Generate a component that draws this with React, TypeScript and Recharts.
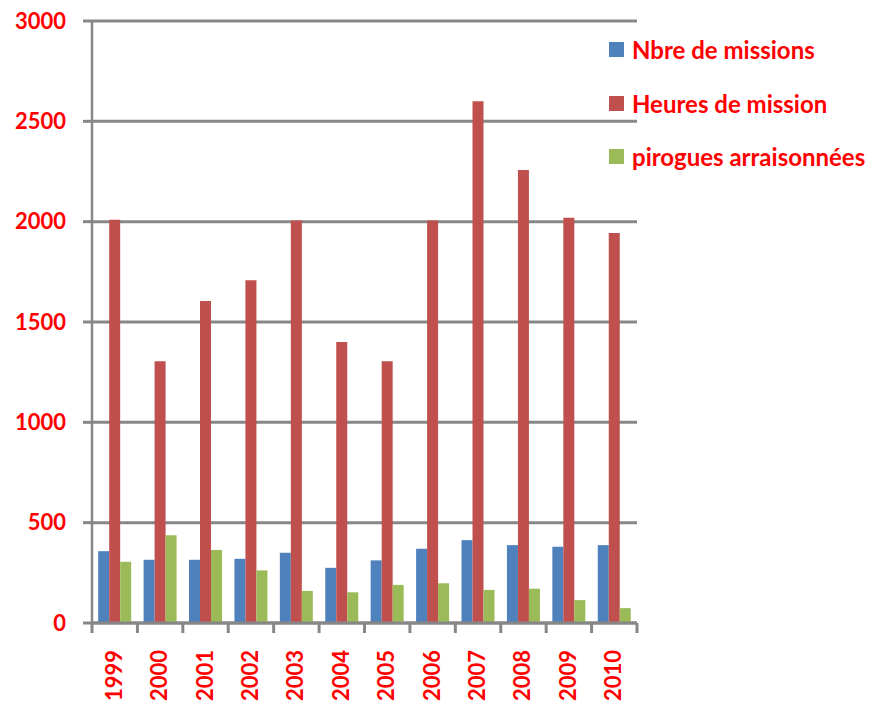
import { BarChart, Bar, XAxis, YAxis, CartesianGrid, Legend } from "recharts";

const years = ["1999", "2000", "2001", "2002", "2003", "2004", "2005", "2006", "2007", "2008", "2009", "2010"];
const missions = [358, 315, 315, 320, 350, 275, 312, 370, 413, 388, 380, 388];
const heures = [2010, 1305, 1605, 1708, 2006, 1400, 1305, 2006, 2600, 2258, 2020, 1943];
const pirogues = [305, 437, 364, 262, 160, 153, 190, 198, 165, 171, 114, 74];
const seriesNames = ["Nbre de missions", "Heures de mission", "pirogues arraisonnées"];
const yTicks = [0, 500, 1000, 1500, 2000, 2500, 3000];

const data = years.map((year, i) => ({
  year,
  missions: missions[i],
  heures: heures[i],
  pirogues: pirogues[i],
}));

const GRID = "#878787";
const RED_TEXT = "#ff0000";
const FONT = "Lato, 'DejaVu Sans', sans-serif";
// plot spans x 92..637
const BAND = (637 - 92) / years.length;

function YearTick(props: any) {
  const { x, y, payload, index } = props;
  const half = BAND / 2;
  return (
    <g>
      <line x1={x - half} x2={x - half} y1={y} y2={y + 10} stroke={GRID} strokeWidth={3} />
      {index === years.length - 1 && (
        <line x1={x + half} x2={x + half} y1={y} y2={y + 10} stroke={GRID} strokeWidth={3} />
      )}
      <text
        transform={`translate(${x + 7}, ${y + 27}) rotate(-90)`}
        textAnchor="end"
        fill={RED_TEXT}
        fontSize={22}
        fontWeight="bold"
        fontFamily={FONT}
      >
        {payload.value}
      </text>
    </g>
  );
}

function SideLegend(props: any) {
  const items = [...(props.payload || [])].sort(
    (a: any, b: any) => seriesNames.indexOf(a.value) - seriesNames.indexOf(b.value)
  );
  return (
    <div>
      {items.map((p: any) => (
        <div key={p.value} style={{ display: "flex", alignItems: "center", height: 53.5 }}>
          <span style={{ width: 15, height: 15, background: p.color, display: "inline-block", marginRight: 8 }} />
          <span style={{ color: RED_TEXT, fontFamily: FONT, fontWeight: "bold", fontSize: 24 }}>{p.value}</span>
        </div>
      ))}
    </div>
  );
}

export default function App() {
  return (
    <div style={{ position: "absolute", left: 0, top: 0, width: 872, height: 708, background: "#fff" }}>
      <BarChart
        width={872}
        height={708}
        data={data}
        margin={{ top: 21, right: 235, bottom: 0, left: 0 }}
        barCategoryGap="13.6%"
        barGap={0}
      >
        <CartesianGrid vertical={false} stroke={GRID} strokeWidth={3} />
        <XAxis
          dataKey="year"
          height={85}
          tickLine={false}
          tickSize={0}
          tickMargin={0}
          axisLine={{ stroke: GRID, strokeWidth: 3 }}
          tick={<YearTick />}
          interval={0}
        />
        <YAxis
          width={92}
          domain={[0, 3000]}
          ticks={yTicks}
          interval={0}
          tickSize={9}
          tickMargin={17}
          tickLine={{ stroke: GRID, strokeWidth: 3 }}
          axisLine={{ stroke: GRID, strokeWidth: 2.5 }}
          tick={{ fill: RED_TEXT, fontSize: 22, fontWeight: "bold", fontFamily: FONT }}
        />
        <Legend
          layout="vertical"
          align="center"
          verticalAlign="middle"
          content={<SideLegend />}
          wrapperStyle={{ position: "absolute", left: 609, top: 23, width: 263 }}
        />
        <Bar dataKey="missions" name={seriesNames[0]} fill="#4f81bd" isAnimationActive={false} />
        <Bar dataKey="heures" name={seriesNames[1]} fill="#c0504d" isAnimationActive={false} />
        <Bar dataKey="pirogues" name={seriesNames[2]} fill="#9bbb59" isAnimationActive={false} />
      </BarChart>
    </div>
  );
}
